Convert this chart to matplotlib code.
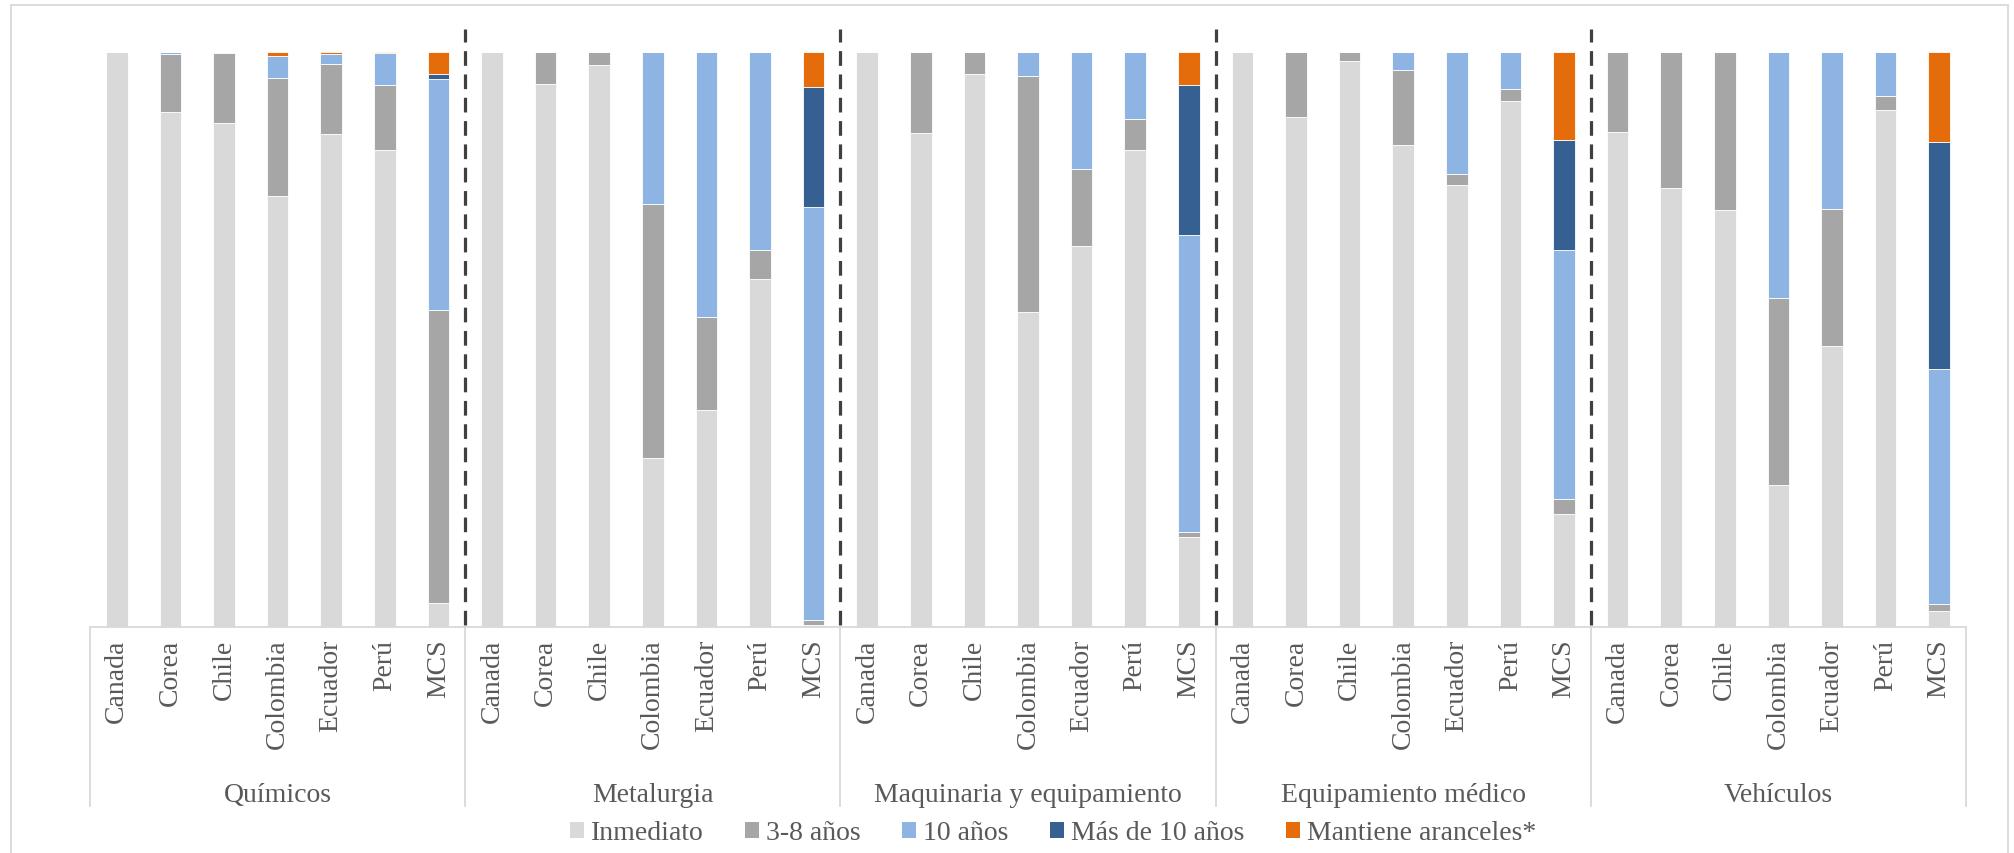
import numpy as np
import matplotlib
matplotlib.use('Agg')
import matplotlib.pyplot as plt
from matplotlib.patches import Rectangle, Patch
from matplotlib.transforms import blended_transform_factory

plt.rcParams['font.family'] = 'serif'
plt.rcParams['font.serif'] = ['Liberation Serif', 'DejaVu Serif']

# --- data: share of tariff lines by phase-out period (%) ---
groups = ['Químicos', 'Metalurgia', 'Maquinaria y equipamiento',
          'Equipamiento médico', 'Vehículos']
countries = ['Canada', 'Corea', 'Chile', 'Colombia', 'Ecuador', 'Perú', 'MCS']
series_names = ['Inmediato', '3-8 años', '10 años', 'Más de 10 años', 'Mantiene aranceles*']

inmediato = [100, 89.5, 87.6, 74.9, 85.7, 82.9, 4.1,
             100, 94.4, 97.8, 29.4, 37.8, 60.6, 0.4,
             100, 85.9, 96.2, 54.8, 66.3, 83.0, 15.6,
             100, 88.7, 98.4, 83.9, 76.8, 91.4, 19.6,
             86.1, 76.4, 72.5, 24.7, 48.8, 90.0, 2.7]
anios_3_8 = [0, 10.2, 12.2, 20.5, 12.2, 11.3, 51.0,
             0, 5.6, 2.2, 44.1, 16.1, 5.0, 0.9,
             0, 14.1, 3.8, 41.1, 13.3, 5.3, 0.9,
             0, 11.3, 1.6, 13.0, 1.9, 2.2, 2.7,
             13.9, 23.6, 27.5, 32.6, 23.9, 2.3, 1.3]
anios_10 = [0, 0.3, 0.2, 3.9, 1.8, 5.6, 40.2,
            0, 0, 0, 26.5, 46.1, 34.4, 71.7,
            0, 0, 0, 4.1, 20.4, 11.7, 51.7,
            0, 0, 0, 3.1, 21.3, 6.4, 43.2,
            0, 0, 0, 42.7, 27.3, 7.7, 40.9]
mas_10 = [0, 0, 0, 0, 0, 0, 0.9,
          0, 0, 0, 0, 0, 0, 20.9,
          0, 0, 0, 0, 0, 0, 26.0,
          0, 0, 0, 0, 0, 0, 19.2,
          0, 0, 0, 0, 0, 0, 39.5]
mantiene = [0, 0, 0, 0.7, 0.3, 0.2, 3.8,
            0, 0, 0, 0, 0, 0, 6.1,
            0, 0, 0, 0, 0, 0, 5.8,
            0, 0, 0, 0, 0, 0, 15.3,
            0, 0, 0, 0, 0, 0, 15.6]

colors = ['#D9D9D9', '#A6A6A6', '#8EB4E3', '#376092', '#E46C0A']
text_color = '#595959'
line_color = '#D9D9D9'

W, H = 2014, 854
fig = plt.figure(figsize=(W / 100, H / 100), dpi=100)
ax = fig.add_axes([90 / W, 1 - 628 / H, (1966 - 90) / W, (628 - 53) / H])

n = len(groups) * len(countries)
x = np.arange(n)
bottom = np.zeros(n)
for vals, name, col in zip([inmediato, anios_3_8, anios_10, mas_10, mantiene],
                           series_names, colors):
    vals = np.array(vals, dtype=float)
    ax.bar(x, vals, width=0.4, bottom=bottom, color=col, edgecolor='white',
           linewidth=0.6, label=name)
    bottom += vals

ax.set_xlim(-0.5, n - 0.5)
ax.set_ylim(0, 100)
ax.set_xticks([])
ax.set_yticks([])
for s in ['top', 'left', 'right']:
    ax.spines[s].set_visible(False)
ax.spines['bottom'].set_color(line_color)
ax.spines['bottom'].set_linewidth(1.3)

# dashed separators between sectors
for k in range(1, len(groups)):
    xs = k * len(countries) - 0.5
    ax.plot([xs, xs], [0.3, 104], color='#404040', lw=2.3,
            dashes=(4.6, 2.7), clip_on=False, zorder=5)

# two-level category axis
tr = blended_transform_factory(ax.transData, ax.transAxes)
for k in range(len(groups) + 1):
    xs = k * len(countries) - 0.5
    ax.plot([xs, xs], [0, -0.311], color=line_color, lw=1.3,
            transform=tr, clip_on=False)
for i in range(n):
    ax.text(i, -0.0205, countries[i % len(countries)], transform=tr,
            rotation=90, ha='center', va='top', fontsize=20, color=text_color)
for k, g in enumerate(groups):
    xc = k * len(countries) + (len(countries) - 1) / 2
    ax.text(xc, -0.302, g, transform=tr, ha='center', va='baseline',
            fontsize=20, color=text_color)

handles = [Patch(facecolor=c, edgecolor='none') for c in colors]
leg = fig.legend(handles, series_names, loc='center', ncol=5,
                 bbox_to_anchor=(1053 / W, 1 - 834 / H), frameon=False,
                 fontsize=20, handlelength=0.5, handleheight=0.5,
                 handletextpad=0.25, columnspacing=1.5, borderpad=0)
for t in leg.get_texts():
    t.set_color(text_color)

# outer chart frame
fig.patches.append(Rectangle((11 / W, -0.05), (2008 - 11) / W, 1.05 - 6 / H,
                             transform=fig.transFigure, fill=False,
                             edgecolor=line_color, lw=1.3))

fig.savefig('out.png', dpi=100)
